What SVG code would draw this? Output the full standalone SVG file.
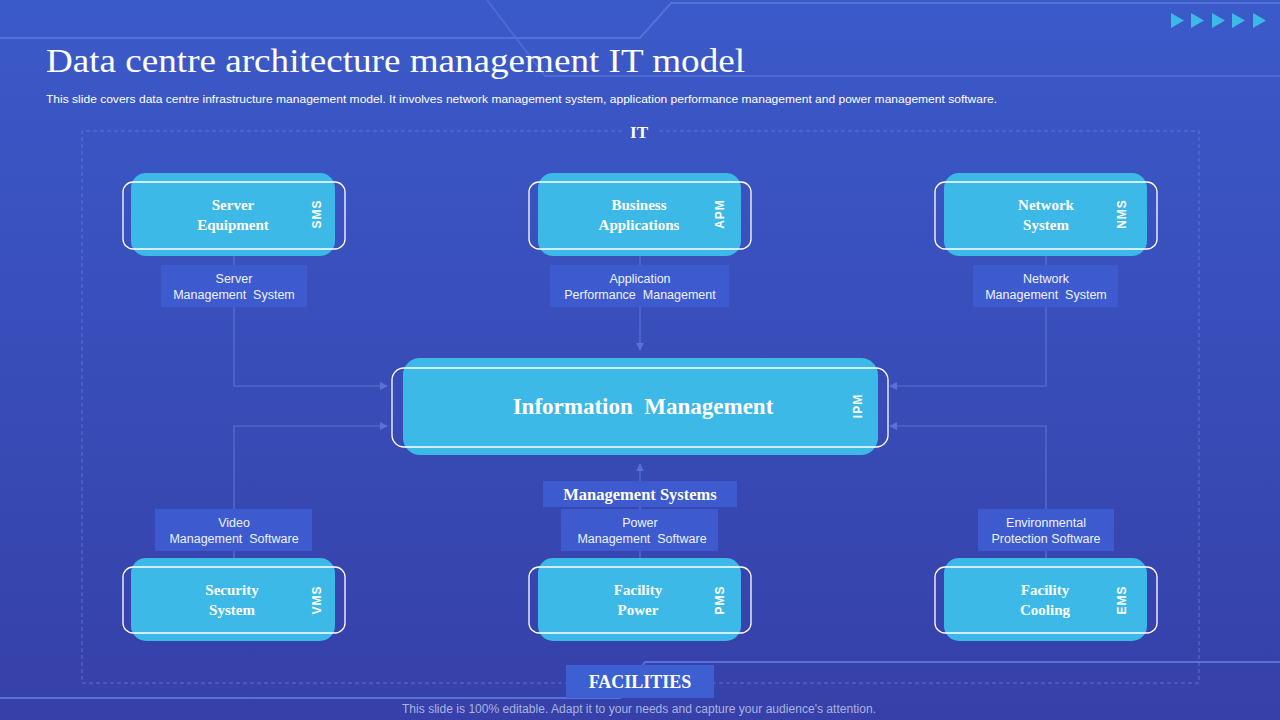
<svg xmlns="http://www.w3.org/2000/svg" width="1280" height="720" viewBox="0 0 1280 720">
<defs>
<linearGradient id="bg" x1="0" y1="0" x2="0" y2="1">
<stop offset="0" stop-color="#3b5ac9"/>
<stop offset="1" stop-color="#3640a8"/>
</linearGradient>
<marker id="arr" viewBox="0 0 10 10" refX="9" refY="5" markerWidth="8" markerHeight="8" markerUnits="userSpaceOnUse" orient="auto">
<path d="M0,0 L10,5 L0,10 z" fill="#5a72d6"/>
</marker>
<style>
.deco{fill:none;stroke:#5671d8;stroke-width:2}
.dash{fill:none;stroke:#6b86e0;stroke-width:1;stroke-dasharray:4 3;opacity:.7}
.conn{fill:none;stroke:#5a72d6;stroke-width:1.2}
.fill{fill:#3db9e8}
.outl{fill:none;stroke:#ffffff;stroke-width:1.3}
.lbox{fill:#3d5bcf}
.ntxt{font-family:"Liberation Serif",serif;font-weight:bold;font-size:15px;fill:#ffffff;text-anchor:middle}
.abbr{font-family:"Liberation Sans",sans-serif;font-weight:bold;font-size:12px;fill:#ffffff;text-anchor:middle;letter-spacing:1px}
.ltxt{font-family:"Liberation Sans",sans-serif;font-size:12.5px;fill:#eef2ff;text-anchor:middle}
.hdr{font-family:"Liberation Serif",serif;font-weight:bold;fill:#ffffff;text-anchor:middle}
.tri{fill:#3db9e8}
</style>
</defs>
<rect width="1280" height="720" fill="url(#bg)"/>
<g id="decor">
<path class="deco" d="M0,38 H640 L671,3 H1280"/>
<path class="deco" d="M487,0 L545,76 H1280" stroke-width="1.2" opacity=".7"/>
<path class="deco" d="M0,698 H620 L645,662 H1280"/>
<polygon class="tri" points="1171,13 1184,20.5 1171,28"/>
<polygon class="tri" points="1191,13 1204,20.5 1191,28"/>
<polygon class="tri" points="1212,13 1225,20.5 1212,28"/>
<polygon class="tri" points="1232,13 1245,20.5 1232,28"/>
<polygon class="tri" points="1253,13 1266,20.5 1253,28"/>
</g>
<g id="title">
<text x="46" y="72" font-family="Liberation Serif,serif" font-size="34" fill="#ffffff" textLength="699" lengthAdjust="spacingAndGlyphs">Data centre architecture management IT model</text>
<text x="46" y="103" font-family="Liberation Sans,sans-serif" font-size="11" fill="#ffffff" textLength="951" lengthAdjust="spacingAndGlyphs">This slide covers data centre infrastructure management model. It involves network management system, application performance management and power management software.</text>
<text x="402" y="713" font-family="Liberation Sans,sans-serif" font-size="12" fill="#a9b3e0" textLength="474" lengthAdjust="spacingAndGlyphs">This slide is 100% editable. Adapt it to your needs and capture your audience's attention.</text>
</g>
<g id="frame">
<path class="dash" d="M622,131 H82 V683 H1199 V131 H658"/>
<text class="hdr" x="639" y="138" font-size="17">IT</text>
</g>
<g id="connectors">
<path class="conn" d="M234,256 V386 H387" marker-end="url(#arr)"/>
<path class="conn" d="M234,558 V426 H387" marker-end="url(#arr)"/>
<path class="conn" d="M1046,256 V386 H890" marker-end="url(#arr)"/>
<path class="conn" d="M1046,558 V426 H890" marker-end="url(#arr)"/>
<path class="conn" d="M640,256 V350" marker-end="url(#arr)"/>
<path class="conn" d="M640,558 V464" marker-end="url(#arr)"/>
</g>
<g id="server-equipment">
<rect class="fill" x="131" y="173" width="204" height="83" rx="15"/>
<rect class="outl" x="123" y="182" width="222" height="67" rx="10"/>
<text class="ntxt" x="233" y="210">Server</text>
<text class="ntxt" x="233" y="230">Equipment</text>
<text class="abbr" transform="translate(321,214) rotate(-90)">SMS</text>
</g>
<g id="business-applications">
<rect class="fill" x="538" y="173" width="203" height="83" rx="15"/>
<rect class="outl" x="529" y="182" width="222" height="67" rx="10"/>
<text class="ntxt" x="639" y="210">Business</text>
<text class="ntxt" x="639" y="230">Applications</text>
<text class="abbr" transform="translate(724,214) rotate(-90)">APM</text>
</g>
<g id="network-system">
<rect class="fill" x="944" y="173" width="203" height="83" rx="15"/>
<rect class="outl" x="935" y="182" width="222" height="67" rx="10"/>
<text class="ntxt" x="1046" y="210">Network</text>
<text class="ntxt" x="1046" y="230">System</text>
<text class="abbr" transform="translate(1126,214) rotate(-90)">NMS</text>
</g>
<g id="server-mgmt-label">
<rect class="lbox" x="161" y="265" width="146" height="42"/>
<text class="ltxt" x="234" y="283">Server</text>
<text class="ltxt" x="234" y="299">Management&#160; System</text>
</g>
<g id="apm-label">
<rect class="lbox" x="550" y="265" width="179" height="42"/>
<text class="ltxt" x="640" y="283">Application</text>
<text class="ltxt" x="640" y="299">Performance&#160; Management</text>
</g>
<g id="network-mgmt-label">
<rect class="lbox" x="973" y="265" width="145" height="42"/>
<text class="ltxt" x="1046" y="283">Network</text>
<text class="ltxt" x="1046" y="299">Management&#160; System</text>
</g>
<g id="information-management">
<rect class="fill" x="403" y="358" width="475" height="97" rx="17"/>
<rect class="outl" x="392" y="368" width="496" height="79" rx="12"/>
<text class="hdr" x="643" y="414" font-size="23">Information&#160; Management</text>
<text class="abbr" transform="translate(862,406) rotate(-90)">IPM</text>
</g>
<g id="management-systems">
<rect class="lbox" x="543" y="481" width="194" height="26"/>
<text class="hdr" x="640" y="500" font-size="16.5">Management Systems</text>
</g>
<g id="video-label">
<rect class="lbox" x="155" y="509" width="157" height="42"/>
<text class="ltxt" x="234" y="527">Video</text>
<text class="ltxt" x="234" y="543">Management&#160; Software</text>
</g>
<g id="power-label">
<rect class="lbox" x="561" y="509" width="157" height="42"/>
<text class="ltxt" x="640" y="527">Power</text>
<text class="ltxt" x="642" y="543">Management&#160; Software</text>
</g>
<g id="env-label">
<rect class="lbox" x="978" y="509" width="136" height="42"/>
<text class="ltxt" x="1046" y="527">Environmental</text>
<text class="ltxt" x="1046" y="543">Protection Software</text>
</g>
<g id="security-system">
<rect class="fill" x="131" y="558" width="204" height="83" rx="15"/>
<rect class="outl" x="123" y="567" width="222" height="66" rx="10"/>
<text class="ntxt" x="232" y="595">Security</text>
<text class="ntxt" x="232" y="615">System</text>
<text class="abbr" transform="translate(321,600) rotate(-90)">VMS</text>
</g>
<g id="facility-power">
<rect class="fill" x="538" y="558" width="203" height="83" rx="15"/>
<rect class="outl" x="529" y="567" width="222" height="66" rx="10"/>
<text class="ntxt" x="638" y="595">Facility</text>
<text class="ntxt" x="638" y="615">Power</text>
<text class="abbr" transform="translate(724,600) rotate(-90)">PMS</text>
</g>
<g id="facility-cooling">
<rect class="fill" x="944" y="558" width="203" height="83" rx="15"/>
<rect class="outl" x="935" y="567" width="222" height="66" rx="10"/>
<text class="ntxt" x="1045" y="595">Facility</text>
<text class="ntxt" x="1045" y="615">Cooling</text>
<text class="abbr" transform="translate(1126,600) rotate(-90)">EMS</text>
</g>
<g id="facilities">
<rect x="566" y="665" width="148" height="33" fill="#3d5fd2"/>
<text class="hdr" x="640" y="688" font-size="18">FACILITIES</text>
</g>
</svg>
